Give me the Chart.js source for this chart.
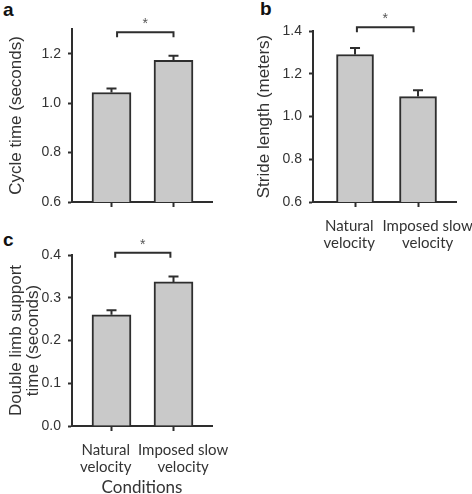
<!DOCTYPE html>
<html>
<head>
<meta charset="utf-8">
<script src="https://cdn.jsdelivr.net/npm/chart.js@4/dist/chart.umd.min.js"></script>
<style>
    body { margin: 0; background: #fff; width: 472px; height: 494px; position: relative; overflow: hidden; }
    canvas { position: absolute; }
    .tag { position: absolute; font: bold 19px "Liberation Sans", Arial, sans-serif; color: #111; line-height: 1; }
</style>
</head>
<body>
<div class="tag" style="left:3px;top:0px">a</div>
<div class="tag" style="left:260px;top:-1px">b</div>
<div class="tag" style="left:3px;top:230px">c</div>
<canvas id="chartA" width="236" height="228" style="left:0;top:0"></canvas>
<canvas id="chartB" width="236" height="260" style="left:236px;top:0"></canvas>
<canvas id="chartC" width="236" height="266" style="left:0;top:228px"></canvas>
<script>
const categories = [["Natural", "velocity"], ["Imposed slow", "velocity"]];

const cycleTime = [1.043, 1.173];
const cycleTimeErr = [0.016, 0.019];
const cycleTicks = [0.6, 0.8, 1.0, 1.2];

const strideLength = [1.29, 1.093];
const strideLengthErr = [0.031, 0.03];
const strideTicks = [0.6, 0.8, 1.0, 1.2, 1.4];

const supportTime = [0.26, 0.337];
const supportTimeErr = [0.011, 0.013];
const supportTicks = [0.0, 0.1, 0.2, 0.3, 0.4];

const INK = "#2e2e2e";
const TEXT = "#333";
const BAR_FILL = "#c9c9c9";
const SANS = "'Liberation Sans', Arial, sans-serif";
const CALIBRI = "Lato, 'Open Sans', sans-serif";
const LABEL_SIZE = 15;

// the original labels sit a little apart from the tick marks; pad with spaces
const measure = document.createElement("canvas").getContext("2d");
measure.font = LABEL_SIZE + "px " + CALIBRI;
const spaceW = measure.measureText(" ").width || 3;
function shifted(lines, px) {
    const pad = " ".repeat(Math.round(Math.abs(px) * 2 / spaceW));
    return lines.map((l) => (px < 0 ? l + pad : pad + l));
}
const labelShift = [-6, 10];
const displayLabels = categories.map((c, i) => shifted(c, labelShift[i]));

// error bar caps on top of each bar
const errorBars = {
    id: "errorBars",
    afterDatasetsDraw(chart) {
        const ctx = chart.ctx;
        const y = chart.scales.y;
        chart.data.datasets.forEach((ds, di) => {
            chart.getDatasetMeta(di).data.forEach((bar, i) => {
                const v = ds.data[i].y;
                const top = y.getPixelForValue(v + ds.err[i]);
                ctx.save();
                ctx.strokeStyle = INK;
                ctx.lineWidth = 2;
                ctx.beginPath();
                ctx.moveTo(bar.x, y.getPixelForValue(v));
                ctx.lineTo(bar.x, top);
                ctx.moveTo(bar.x - 5, top);
                ctx.lineTo(bar.x + 5, top);
                ctx.stroke();
                ctx.restore();
            });
        });
    },
};

// significance bracket with star
const sigBracket = {
    id: "sigBracket",
    afterDraw(chart, args, opts) {
        if (!opts || opts.level == null) return;
        const ctx = chart.ctx;
        const x = chart.scales.x, y = chart.scales.y;
        const x1 = x.getPixelForValue(opts.from), x2 = x.getPixelForValue(opts.to);
        const yy = y.getPixelForValue(opts.level);
        ctx.save();
        ctx.strokeStyle = INK;
        ctx.lineWidth = 2;
        ctx.beginPath();
        ctx.moveTo(x1, yy + 5);
        ctx.lineTo(x1, yy);
        ctx.lineTo(x2, yy);
        ctx.lineTo(x2, yy + 5);
        ctx.stroke();
        ctx.fillStyle = "#555";
        ctx.font = "14px " + SANS;
        ctx.textAlign = "center";
        ctx.textBaseline = "middle";
        ctx.fillText("*", (x1 + x2) / 2, yy - 8);
        ctx.restore();
    },
};

function makeChart(id, p) {
    return new Chart(document.getElementById(id), {
        type: "bar",
        data: {
            datasets: [{
                data: p.values.map((v, i) => ({ x: i, y: v })),
                err: p.errors,
                backgroundColor: BAR_FILL,
                borderColor: INK,
                borderWidth: 2,
                borderSkipped: "bottom",
                barThickness: p.barWidth,
            }],
        },
        options: {
            responsive: false,
            animation: false,
            events: [],
            layout: { padding: p.padding },
            plugins: {
                legend: { display: false },
                tooltip: { enabled: false },
                sigBracket: p.sig,
            },
            scales: {
                x: {
                    type: "linear",
                    offset: false,
                    min: p.xMin,
                    max: p.xMax,
                    afterBuildTicks: (s) => { s.ticks = categories.map((c, i) => ({ value: i })); },
                    afterFit: (s) => {
                        s.height = p.xHeight;
                        s.paddingLeft = 0;
                        s.paddingRight = 0;
                    },
                    grid: { offset: false, drawOnChartArea: false, tickLength: 5, tickWidth: 2, tickColor: INK },
                    border: { color: INK, width: 2 },
                    ticks: {
                        display: p.showLabels,
                        callback: (v) => displayLabels[v],
                        font: { family: CALIBRI, size: LABEL_SIZE, lineHeight: 1.12 },
                        color: TEXT,
                        padding: 11,
                        maxRotation: 0,
                        autoSkip: false,
                    },
                    title: {
                        display: !!p.xTitle,
                        text: p.xTitle,
                        font: { family: CALIBRI, size: 17, lineHeight: 0.75 },
                        color: TEXT,
                        padding: { top: 0, bottom: 0 },
                    },
                },
                y: {
                    min: p.yMin,
                    max: p.yMax,
                    afterBuildTicks: (s) => { s.ticks = p.ticks.map((v) => ({ value: v })); },
                    afterFit: (s) => {
                        s.width = p.yWidth;
                        s.paddingTop = 0;
                        s.paddingBottom = 0;
                    },
                    grid: { drawOnChartArea: false, tickLength: 4, tickWidth: 2, tickColor: INK },
                    border: { color: INK, width: 2 },
                    ticks: {
                        callback: (v) => v.toFixed(1),
                        font: { family: SANS, size: 14 },
                        color: TEXT,
                        padding: 7,
                    },
                    title: {
                        display: true,
                        text: p.yTitle,
                        font: { family: SANS, size: 17, lineHeight: 1.05 },
                        color: TEXT,
                        padding: { top: p.titlePad, bottom: 0 },
                    },
                },
            },
        },
        plugins: [errorBars, sigBracket],
    });
}

makeChart("chartA", {
    values: cycleTime, errors: cycleTimeErr, ticks: cycleTicks,
    yMin: 0.6, yMax: 1.3, xMin: -0.637, xMax: 1.621,
    yTitle: "Cycle time (seconds)", titlePad: 7,
    padding: { top: 29, right: 24, bottom: 0, left: 0 },
    yWidth: 72, xHeight: 26, barWidth: 39, showLabels: false,
    sig: { from: 0.09, to: 1.0, level: 1.287 },
});

makeChart("chartB", {
    values: strideLength, errors: strideLengthErr, ticks: strideTicks,
    yMin: 0.6, yMax: 1.4, xMin: -0.667, xMax: 1.603,
    yTitle: "Stride length (meters)", titlePad: 19,
    padding: { top: 31, right: 16, bottom: 0, left: 0 },
    yWidth: 77, xHeight: 58, barWidth: 37, showLabels: true,
    sig: { from: 0.03, to: 0.93, level: 1.417 },
});

makeChart("chartC", {
    values: supportTime, errors: supportTimeErr, ticks: supportTicks,
    yMin: 0, yMax: 0.4, xMin: -0.637, xMax: 1.621,
    yTitle: ["Double limb support", "time (seconds)"], titlePad: 7,
    padding: { top: 27, right: 24, bottom: 0, left: 0 },
    yWidth: 72, xHeight: 68, barWidth: 39, showLabels: true, xTitle: "Conditions",
    sig: { from: 0.06, to: 0.95, level: 0.405 },
});
</script>
</body>
</html>
